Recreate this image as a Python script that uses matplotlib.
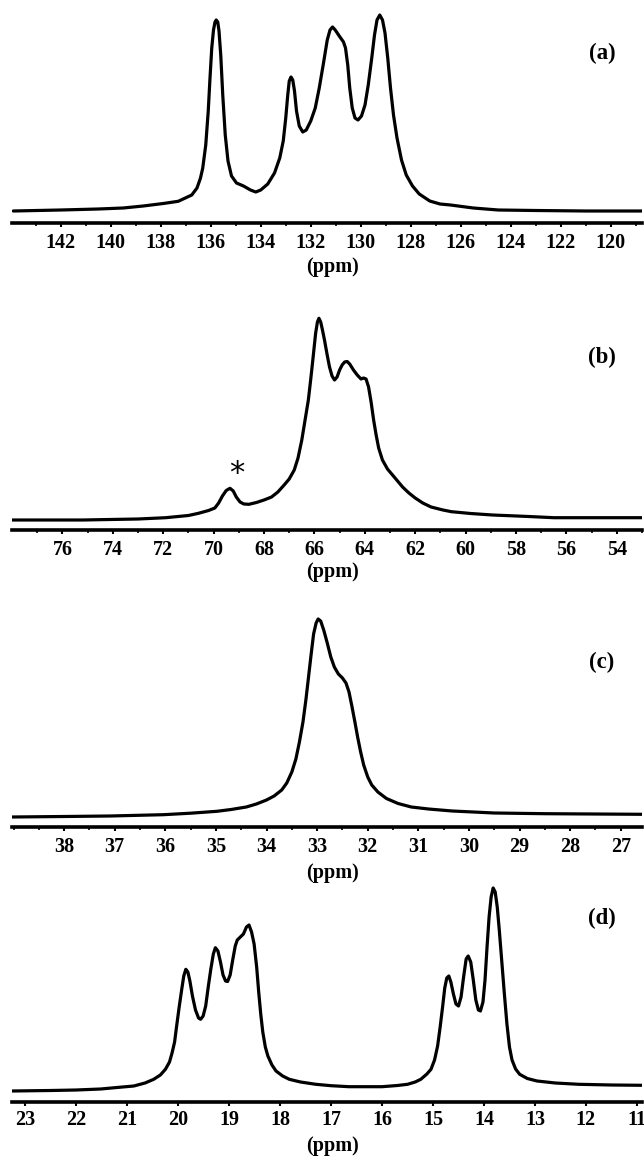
import matplotlib
matplotlib.use("Agg")
import matplotlib.pyplot as plt
import numpy as np

# ---- traced spectra: chemical shift (ppm) and height above the axis line (px) ----
ppm_a = [143.9, 142.0, 140.5, 139.5, 138.7, 137.9, 137.3, 136.76, 136.55, 136.41,
         136.32, 136.2, 136.1, 136.03, 135.96, 135.89, 135.83, 135.78, 135.72, 135.67,
         135.6, 135.52, 135.42, 135.31, 135.17, 134.97, 134.69, 134.41, 134.2, 134.0,
         133.72, 133.45, 133.24, 133.1, 133.0, 132.92, 132.86, 132.79, 132.72, 132.65,
         132.57, 132.46, 132.32, 132.18, 132.0, 131.82, 131.66, 131.49, 131.34, 131.23,
         131.13, 131.02, 130.86, 130.69, 130.61, 130.52, 130.44, 130.34, 130.23, 130.11,
         129.97, 129.83, 129.7, 129.56, 129.45, 129.35, 129.24, 129.13, 129.03, 128.92,
         128.81, 128.69, 128.55, 128.37, 128.18, 127.93, 127.66, 127.24, 126.83, 126.41,
         125.5, 124.5, 123.0, 121.0, 118.7]
int_a = [12, 13, 14, 15, 17, 19.5, 21.7, 28, 35, 45,
         55, 78, 112, 145, 175, 193, 201, 203, 201, 192,
         168, 128, 88, 62, 47, 40, 37, 33, 31, 33,
         39, 50, 65, 82, 105, 128, 142, 146, 143, 132,
         112, 97, 91, 93, 102, 115, 135, 160, 183, 193,
         196, 193, 187, 181, 175, 158, 135, 115, 105, 103,
         107, 118, 138, 165, 188, 203, 208, 203, 190, 165,
         135, 108, 85, 63, 48, 37, 29, 22, 19, 18,
         15, 13, 12.5, 12, 12]

ppm_b = [78.0, 75.2, 73.0, 71.9, 71.0, 70.6, 70.2, 69.95, 69.8, 69.65,
         69.5, 69.35, 69.22, 69.1, 68.95, 68.8, 68.6, 68.3, 68.0, 67.7,
         67.45, 67.2, 67.0, 66.8, 66.65, 66.5, 66.37, 66.24, 66.14, 66.05,
         65.95, 65.88, 65.82, 65.75, 65.68, 65.6, 65.5, 65.4, 65.3, 65.2,
         65.1, 65.0, 64.9, 64.8, 64.7, 64.6, 64.45, 64.3, 64.15, 64.05,
         63.95, 63.85, 63.75, 63.65, 63.55, 63.45, 63.3, 63.1, 62.9, 62.7,
         62.5, 62.25, 62.0, 61.7, 61.37, 60.9, 60.56, 59.8, 58.93, 57.5,
         56.5, 53.0]
int_b = [10, 10, 11, 12.3, 14.5, 16.7, 19.5, 22, 27, 34,
         39.5, 41.7, 39, 33, 28, 26, 25.7, 27.5, 30, 33,
         38, 45, 51, 60, 72, 90, 110, 130, 152, 173,
         197, 208, 211.7, 208, 200, 190, 176, 163, 154, 150,
         153, 160, 165, 168, 168.5, 166, 160, 155, 151, 152,
         151, 143, 128, 110, 95, 82, 70, 61, 55, 49,
         43, 37, 32, 27, 23, 20, 18.3, 16.5, 15, 13.5,
         12.3, 12.3]
star_b = (69.1, 57)

ppm_c = [39.03, 38.0, 37.1, 36.04, 35.5, 34.98, 34.7, 34.4, 34.2, 34.0,
         33.85, 33.7, 33.6, 33.5, 33.42, 33.35, 33.28, 33.22, 33.17, 33.12,
         33.07, 33.02, 32.98, 32.93, 32.87, 32.8, 32.73, 32.66, 32.58, 32.5,
         32.43, 32.37, 32.31, 32.25, 32.2, 32.14, 32.08, 32.0, 31.92, 31.8,
         31.63, 31.4, 31.14, 30.8, 30.33, 29.5, 28.5, 26.58]
int_c = [10, 10.5, 11, 12.3, 13.8, 15.7, 17.5, 20, 23, 27,
         31, 37, 44, 55, 68, 85, 105, 128, 150, 172,
         193, 204, 208, 206, 197, 184, 170, 160, 153, 149,
         144, 135, 120, 104, 90, 75, 62, 50, 42, 35,
         28.5, 23.5, 20, 18, 16, 14, 13.3, 12.7]

ppm_d = [23.26, 22.5, 22.0, 21.52, 21.2, 20.87, 20.65, 20.48, 20.35, 20.25,
         20.17, 20.12, 20.07, 20.03, 19.98, 19.93, 19.89, 19.85, 19.81, 19.77,
         19.72, 19.66, 19.6, 19.56, 19.51, 19.46, 19.41, 19.36, 19.31, 19.27,
         19.22, 19.17, 19.12, 19.07, 19.03, 18.98, 18.93, 18.88, 18.84, 18.78,
         18.72, 18.66, 18.61, 18.56, 18.51, 18.46, 18.42, 18.38, 18.34, 18.29,
         18.24, 18.16, 18.08, 17.95, 17.82, 17.6, 17.3, 17.0, 16.65, 16.0,
         15.7, 15.5, 15.35, 15.24, 15.12, 15.04, 14.97, 14.91, 14.86, 14.81,
         14.77, 14.73, 14.69, 14.65, 14.6, 14.55, 14.5, 14.45, 14.4, 14.35,
         14.31, 14.26, 14.21, 14.16, 14.11, 14.07, 14.02, 13.98, 13.94, 13.9,
         13.86, 13.82, 13.78, 13.74, 13.7, 13.65, 13.6, 13.55, 13.5, 13.45,
         13.38, 13.3, 13.15, 12.96, 12.6, 12.14, 11.5, 10.9]
int_d = [11, 11.5, 12, 13, 14.5, 16, 19, 22.7, 27, 32.7,
         40, 49, 60, 76, 95, 112.7, 126, 132.7, 130, 121,
         106, 92, 84, 82.7, 86, 96, 115, 132.7, 148, 154.3,
         151, 140, 127, 121, 120.5, 127, 142, 156, 162, 165,
         168, 175, 177, 170, 158, 135, 110, 88, 70, 55,
         46, 37, 31, 26, 22.7, 20, 17.7, 16.3, 15.3, 15.3,
         16.5, 17.7, 20, 22.7, 28, 32.7, 42, 56, 75, 96,
         114, 124, 126, 120, 108, 98, 96, 105, 125, 143,
         146, 140, 122, 102, 92, 91, 100, 122, 155, 185,
         205, 214, 210, 195, 172, 140, 108, 78, 55, 42,
         33, 27.7, 23.5, 21, 19, 17.7, 17, 16.7]

xlim_a = (143.95, 118.75)
xlim_b = (78.0, 53.0)
xlim_c = (39.03, 26.58)
xlim_d = (23.26, 10.9)

major_a = np.arange(142, 119, -2)
major_b = np.arange(76, 53, -2)
major_c = np.arange(38, 26, -1)
major_d = np.arange(23, 10, -1)

labels = ['(a)', '(b)', '(c)', '(d)']

W, H = 644, 1157
fig = plt.figure(figsize=(W / 100, H / 100), dpi=100)
fig.patch.set_facecolor('white')

serif = 'Liberation Serif'

# panel: data, limits, ticks, axis-line y, label y, (ppm) y  (pixels from top)
panels = [
    (ppm_a, int_a, xlim_a, major_a, 1.0, 223, 53, 267),
    (ppm_b, int_b, xlim_b, major_b, 1.0, 530, 357, 572),
    (ppm_c, int_c, xlim_c, major_c, 0.5, 827, 662, 873),
    (ppm_d, int_d, xlim_d, major_d, None, 1102, 918, 1146),
]

hpx = 222
for i, (ppm, inten, xl, major, minor_step, axis_y, lab_y, ppm_y) in enumerate(panels):
    ax = fig.add_axes([12 / W, 1 - axis_y / H, 630 / W, hpx / H])
    ax.plot(ppm, inten, color='black', lw=2.3, solid_joinstyle='round', solid_capstyle='round')
    ax.set_xlim(*xl)
    ax.set_ylim(0, hpx)
    for s in ['left', 'right', 'top']:
        ax.spines[s].set_visible(False)
    ax.spines['bottom'].set_linewidth(2.6)
    ax.set_yticks([])
    ax.set_xticks(major)
    ax.set_xticklabels([str(int(v)) for v in major], fontfamily=serif,
                       fontweight='bold', fontsize=14.5)
    if minor_step is not None:
        lo, hi = min(xl), max(xl)
        minors = np.arange(np.ceil(lo / minor_step) * minor_step, hi, minor_step)
        minors = [m for m in minors if not np.any(np.isclose(m, major))]
        ax.set_xticks(minors, minor=True)
    pad = 2.5 if i == 3 else 4
    ax.tick_params(axis='x', which='major', direction='out', length=3, width=1.5, pad=pad)
    ax.tick_params(axis='x', which='minor', direction='out', length=2, width=1.2)
    ax.patch.set_alpha(0)

    if i == 1:
        ax.text(star_b[0], star_b[1], '*', ha='center', va='center',
                fontsize=22, fontfamily='DejaVu Sans', color='black')

    fig.text(602 / W, 1 - lab_y / H, labels[i], ha='center', va='center',
             fontfamily=serif, fontweight='bold', fontsize=16.5)
    fig.text(333 / W, 1 - ppm_y / H, '(ppm)', ha='center', va='center',
             fontfamily=serif, fontweight='bold', fontsize=14.5)

fig.savefig('out.png', dpi=100, facecolor='white')
